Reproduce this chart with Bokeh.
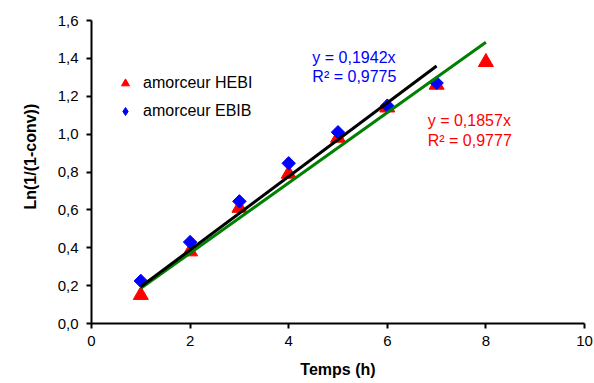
from bokeh.plotting import figure
from bokeh.models import Range1d, FixedTicker, CustomJSTickFormatter, Legend, LegendItem, Label, Title
from bokeh.embed import file_html
from bokeh.resources import INLINE

# Data
temps = [1, 2, 3, 4, 5, 6, 7, 8]
hebi = [0.15, 0.38, 0.61, 0.79, 0.98, 1.14, 1.26, 1.38]
temps_ebib = [1, 2, 3, 4, 5, 6, 7]
ebib = [0.225, 0.43, 0.645, 0.846, 1.01, 1.15, 1.27]
slope_hebi = 0.1857
slope_ebib = 0.1942
fit_hebi_x = [1, 8]
fit_ebib_x = [1, 7]
x_ticks = [0, 2, 4, 6, 8, 10]
y_ticks = [0.0, 0.2, 0.4, 0.6, 0.8, 1.0, 1.2, 1.4, 1.6]

FONT = "Liberation Sans"

p = figure(width=594, height=382, output_backend="svg", toolbar_location=None,
           x_range=Range1d(0, 10), y_range=Range1d(0, 1.6),
           min_border_left=91, min_border_top=20, min_border_right=10, min_border_bottom=59)
p.outline_line_color = None
p.xgrid.visible = False
p.ygrid.visible = False

for ax in (p.xaxis[0], p.yaxis[0]):
    ax.axis_line_width = 2
    ax.axis_line_color = "black"
    ax.major_tick_line_width = 2
    ax.major_tick_in = 0
    ax.major_tick_out = 5
    ax.minor_tick_line_color = None
    ax.major_label_text_font = FONT
    ax.major_label_text_font_size = "15px"
    ax.major_label_text_color = "black"
    ax.axis_label_text_font = FONT
    ax.axis_label_text_font_style = "bold"
    ax.axis_label_text_font_size = "16px"
    ax.axis_label_text_color = "black"

p.xaxis.ticker = FixedTicker(ticks=x_ticks)
p.yaxis.ticker = FixedTicker(ticks=y_ticks)
p.xaxis.formatter = CustomJSTickFormatter(code="return tick.toFixed(0);")
p.yaxis.formatter = CustomJSTickFormatter(code="return tick.toFixed(1).replace('.', ',');")
p.xaxis.axis_label = "Temps (h)"
p.xaxis.major_label_standoff = 7
p.yaxis.major_label_standoff = 8
p.xaxis.axis_label_standoff = 12

# y-axis title placed slightly above centre, as in the reference
p.add_layout(Title(text="Ln(1/(1-conv))", align="left", offset=114, standoff=32,
                   text_font=FONT, text_font_style="bold", text_font_size="16px",
                   text_color="black"), "left")

r_hebi = p.scatter(temps, hebi, marker="triangle", size=15, color="#ff0000")
r_ebib = p.scatter(temps_ebib, ebib, marker="square", angle=0.785398, size=9.5, color="#0000ff")

p.line(fit_hebi_x, [slope_hebi * x for x in fit_hebi_x], line_color="#008000", line_width=3)
p.line(fit_ebib_x, [slope_ebib * x for x in fit_ebib_x], line_color="black", line_width=3)

# hidden legend-only glyphs (smaller markers, as in the reference legend)
lg_hebi = p.scatter(temps, hebi, marker="triangle", size=11, color="#ff0000", visible=False)
lg_ebib = p.scatter(temps_ebib, ebib, marker="diamond", size=13, color="#0000ff", visible=False)

legend = Legend(items=[LegendItem(label="amorceur HEBI", renderers=[lg_hebi]),
                       LegendItem(label="amorceur EBIB", renderers=[lg_ebib])],
                location=(24, 202), padding=0, spacing=8, glyph_height=20, glyph_width=20,
                label_height=20, label_standoff=8, border_line_color=None,
                background_fill_alpha=0, inactive_fill_alpha=0,
                label_text_font=FONT, label_text_font_size="16px",
                label_text_color="black")
p.add_layout(legend, "center")

for txt, x, y, c in [("y = 0,1942x", 4.48, 1.404, "#0000ff"), ("R² = 0,9775", 4.48, 1.304, "#0000ff"),
                     ("y = 0,1857x", 6.82, 1.071, "#ff0000"), ("R² = 0,9777", 6.82, 0.966, "#ff0000")]:
    p.add_layout(Label(x=x, y=y, text=txt, text_color=c, text_font=FONT, text_font_size="16px",
                       text_baseline="middle", text_align="left"))

open("out.html", "w").write(file_html(p, INLINE))
